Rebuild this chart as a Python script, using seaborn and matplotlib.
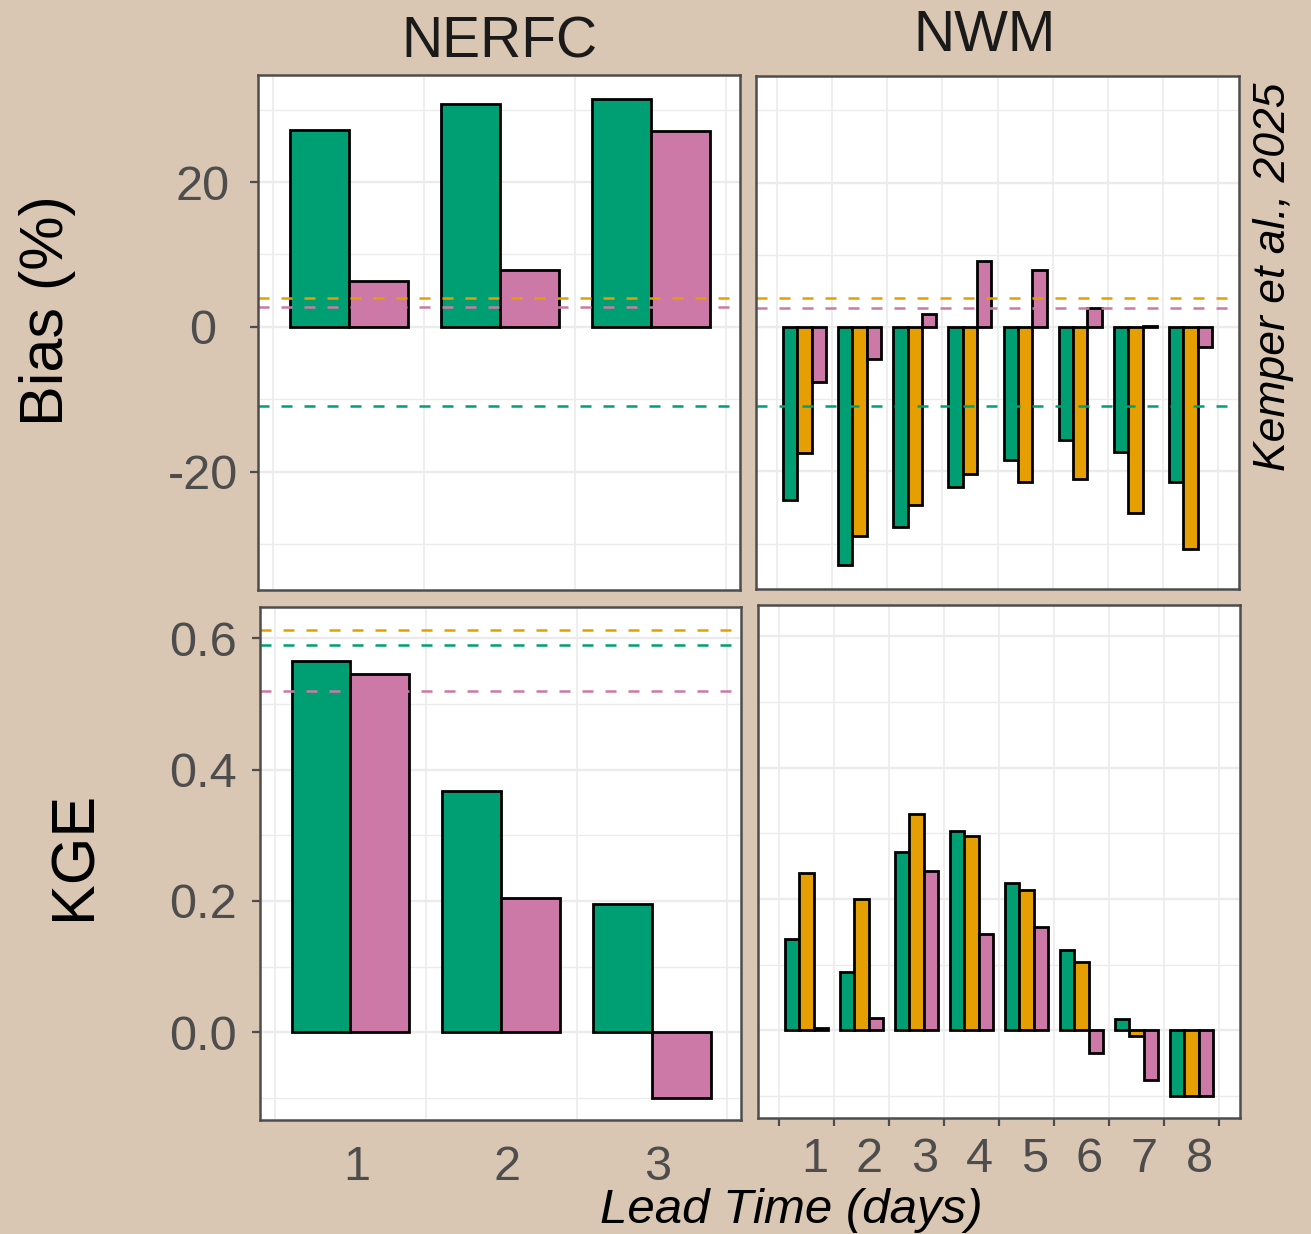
import numpy as np
import pandas as pd
import matplotlib
matplotlib.use("Agg")
import matplotlib.pyplot as plt
import matplotlib.transforms as mtransforms
from matplotlib.ticker import FixedLocator, NullFormatter, FixedFormatter
import seaborn as sns

# ---------------- data ----------------
lead_nerfc = [1, 2, 3]
lead_nwm = [1, 2, 3, 4, 5, 6, 7, 8]
series_names = ["Series A", "Series B", "Series C"]
series_colors = ["#009E73", "#E69F00", "#CC79A7"]

nerfc_bias_a = [27.2, 30.7, 31.4]
nerfc_bias_c = [6.3, 7.8, 27.0]
nwm_bias_a = [-24.0, -33.0, -27.7, -22.2, -18.4, -15.6, -17.3, -21.5]
nwm_bias_b = [-17.5, -29.0, -24.7, -20.4, -21.4, -21.0, -25.8, -30.8]
nwm_bias_c = [-7.6, -4.4, 1.85, 9.1, 7.9, 2.7, 0.2, -2.7]

nerfc_kge_a = [0.565, 0.367, 0.196]
nerfc_kge_c = [0.545, 0.205, -0.100]
nwm_kge_a = [0.139, 0.089, 0.272, 0.303, 0.224, 0.123, 0.017, -0.100]
nwm_kge_b = [0.239, 0.200, 0.330, 0.296, 0.213, 0.104, -0.009, -0.100]
nwm_kge_c = [0.003, 0.019, 0.242, 0.146, 0.157, -0.034, -0.076, -0.100]

# reference (dashed) lines
bias_ref = [-10.9, 3.95, 2.7]     # A, B, C
kge_ref = [0.590, 0.613, 0.519]   # A, B, C

# ---------------- style ----------------
sns.set_style("white")
plt.rcParams["font.family"] = ["Liberation Sans", "DejaVu Sans"]

W, H = 1311, 1234
BG = "#DAC7B3"
fig = plt.figure(figsize=(W / 100, H / 100), dpi=100, facecolor=BG)


def px_axes(l, t, r, b):
    return fig.add_axes([l / W, 1 - b / H, (r - l) / W, (b - t) / H])


def long_df(lead, cols):
    rows = []
    for name, vals in cols.items():
        for x, v in zip(lead, vals):
            rows.append({"lead": x, "series": name, "value": v})
    return pd.DataFrame(rows)


pal = dict(zip(series_names, series_colors))

panels = [
    (long_df(lead_nerfc, {series_names[0]: nerfc_bias_a, series_names[2]: nerfc_bias_c}),
     [series_names[0], series_names[2]], (258, 75, 740, 590), "bias", "nerfc"),
    (long_df(lead_nwm, {series_names[0]: nwm_bias_a, series_names[1]: nwm_bias_b, series_names[2]: nwm_bias_c}),
     series_names, (756, 76, 1239, 589), "bias", "nwm"),
    (long_df(lead_nerfc, {series_names[0]: nerfc_kge_a, series_names[2]: nerfc_kge_c}),
     [series_names[0], series_names[2]], (260, 607, 741, 1120), "kge", "nerfc"),
    (long_df(lead_nwm, {series_names[0]: nwm_kge_a, series_names[1]: nwm_kge_b, series_names[2]: nwm_kge_c}),
     series_names, (758, 605, 1240, 1118), "kge", "nwm"),
]

for df, hue_order, box, row, col in panels:
    ax = px_axes(*box)
    ax.set_facecolor("white")
    sns.barplot(data=df, x="lead", y="value", hue="series", hue_order=hue_order,
                palette=pal, native_scale=True, width=0.78, saturation=1,
                edgecolor="black", linewidth=2.0, errorbar=None, legend=False, ax=ax, zorder=2)
    ax.set_xlabel("")
    ax.set_ylabel("")

    n = 3 if col == "nerfc" else 8
    if col == "nerfc":
        ax.set_xlim(0.40, 3.59)
    else:
        ax.set_xlim(0.12, 8.88)

    if row == "bias":
        ax.set_ylim(-36.28, 34.76)
        ax.yaxis.set_major_locator(FixedLocator([-20, 0, 20]))
        ax.yaxis.set_minor_locator(FixedLocator([-30, -10, 10, 30]))
        ax.yaxis.set_major_formatter(FixedFormatter(["-20", "0", "20"]))
        refs = bias_ref
    else:
        ax.set_ylim(-0.1335, 0.6476)
        ax.yaxis.set_major_locator(FixedLocator([0.0, 0.2, 0.4, 0.6]))
        ax.yaxis.set_minor_locator(FixedLocator([-0.1, 0.1, 0.3, 0.5]))
        ax.yaxis.set_major_formatter(FixedFormatter(["0.0", "0.2", "0.4", "0.6"]))
        refs = kge_ref

    # x ticks: labels at integers, gridlines/tick marks at half-integers
    ax.xaxis.set_major_locator(FixedLocator(list(range(1, n + 1))))
    ax.xaxis.set_minor_locator(FixedLocator([i + 0.5 for i in range(0, n + 1)]))
    ax.xaxis.set_minor_formatter(NullFormatter())

    ax.yaxis.grid(True, which="major", color="#EBEBEB", lw=1.7, zorder=0)
    ax.yaxis.grid(True, which="minor", color="#EBEBEB", lw=1.0, zorder=0)
    ax.xaxis.grid(True, which="minor", color="#EBEBEB", lw=1.2, zorder=0)
    ax.xaxis.grid(False, which="major")
    ax.set_axisbelow(True)

    for s in ax.spines.values():
        s.set_color("#4D4D4D")
        s.set_linewidth(1.8)
        s.set_zorder(5)

    # y axis
    if col == "nerfc":
        ax.tick_params(axis="y", which="major", length=6, width=1.6, color="#4D4D4D",
                       labelsize=35, labelcolor="#4D4D4D",
                       pad=33.6 if row == "bias" else 35, left=True)
        ax.tick_params(axis="y", which="minor", length=0)
        for lab in ax.get_yticklabels():
            lab.set_horizontalalignment("center")
    else:
        ax.tick_params(axis="y", which="both", length=0, labelleft=False)

    # x axis
    if row == "bias":
        ax.tick_params(axis="x", which="both", length=0, labelbottom=False)
    else:
        if col == "nerfc":
            ax.tick_params(axis="x", which="major", length=0, labelsize=35,
                           labelcolor="#4D4D4D", pad=18)
            ax.tick_params(axis="x", which="minor", length=0)
            dx = 6
        else:
            ax.tick_params(axis="x", which="major", length=0, labelsize=35,
                           labelcolor="#4D4D4D", pad=14)
            ax.tick_params(axis="x", which="minor", length=6, width=1.6,
                           color="#4D4D4D", bottom=True)
            dx = 8
        off = mtransforms.ScaledTranslation(dx / 100, 0, fig.dpi_scale_trans)
        for lab in ax.get_xticklabels():
            lab.set_transform(lab.get_transform() + off)

    # dashed reference lines
    if not (row == "kge" and col == "nwm"):
        for v, c in zip(refs, series_colors):
            ax.axhline(v, color=c, lw=1.8, dashes=(4.4, 4.8), zorder=4)

# ---------------- texts ----------------
fig.text(499 / W, 1 - 57 / H, "NERFC", fontsize=41, color="#1A1A1A",
         ha="center", va="baseline")
fig.text(984 / W, 1 - 51 / H, "NWM", fontsize=41, color="#1A1A1A",
         ha="center", va="baseline")
fig.text(48 / W, 1 - 311 / H, "Bias (%)", fontsize=44, color="black",
         rotation=90, ha="center", va="center")
fig.text(75 / W, 1 - 855 / H, "KGE", fontsize=44, color="black",
         rotation=90, ha="center", va="center")
fig.text(791 / W, 1 - 1223 / H, "Lead Time (days)", fontsize=35.5, style="italic",
         color="black", ha="center", va="baseline")
fig.text(1273 / W, 1 - 277 / H, "Kemper et al., 2025", fontsize=32, style="italic",
         color="black", rotation=90, ha="center", va="center")

fig.savefig("out.png", dpi=100, facecolor=BG)
